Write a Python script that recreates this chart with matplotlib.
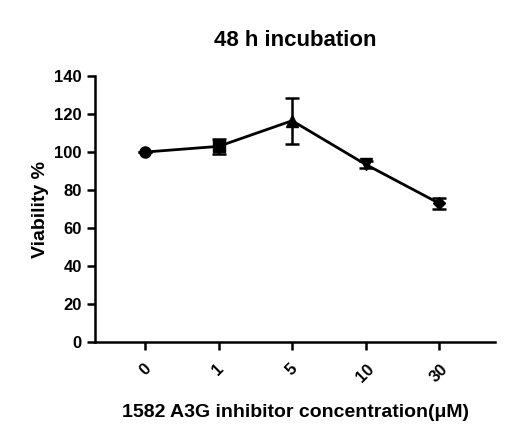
import matplotlib
matplotlib.use("Agg")
import matplotlib.pyplot as plt

categories = ["0", "1", "5", "10", "30"]
viability = [100, 103, 116.5, 93.5, 73]
errors = [0, 4, 12, 2, 3]
markers = ["o", "s", "^", "v", "D"]

plt.rcParams['font.family'] = ['Liberation Sans', 'DejaVu Sans']
plt.rcParams['font.weight'] = 'bold'

fig = plt.figure(figsize=(5.25, 4.45), dpi=100)
ax = fig.add_axes([0.181, 0.2315, 0.762, 0.5975])
x = list(range(len(categories)))
ax.plot(x, viability, color='black', lw=2)
ax.errorbar(x, viability, yerr=errors, fmt='none', ecolor='black', elinewidth=1.8, capsize=5, capthick=1.8)
for xi, yi, m in zip(x, viability, markers):
    ax.plot(xi, yi, marker=m, color='black', ms=8 if m != 'D' else 6.5, ls='none')

ax.set_xlim(-0.68, 4.76)
ax.set_ylim(0, 140)
ax.set_yticks(range(0, 141, 20))
ax.set_xticks(x)
ax.set_xticklabels(categories, rotation=45, fontsize=12, fontweight='bold')
for lab in ax.get_yticklabels():
    lab.set_fontsize(12); lab.set_fontweight('bold')
for s in ['top', 'right']:
    ax.spines[s].set_visible(False)
for s in ['left', 'bottom']:
    ax.spines[s].set_linewidth(1.8)
ax.tick_params(width=1.8, length=6, direction='out')
ax.tick_params(axis='x', pad=8)
ax.set_ylabel("Viability %", fontsize=14, fontweight='bold')
ax.set_xlabel("1582 A3G inhibitor concentration(\u03bcM)", fontsize=14, fontweight='bold', labelpad=14)
ax.set_title("48 h incubation", fontsize=16, fontweight='bold', pad=22)
fig.savefig("out.png", dpi=100)
